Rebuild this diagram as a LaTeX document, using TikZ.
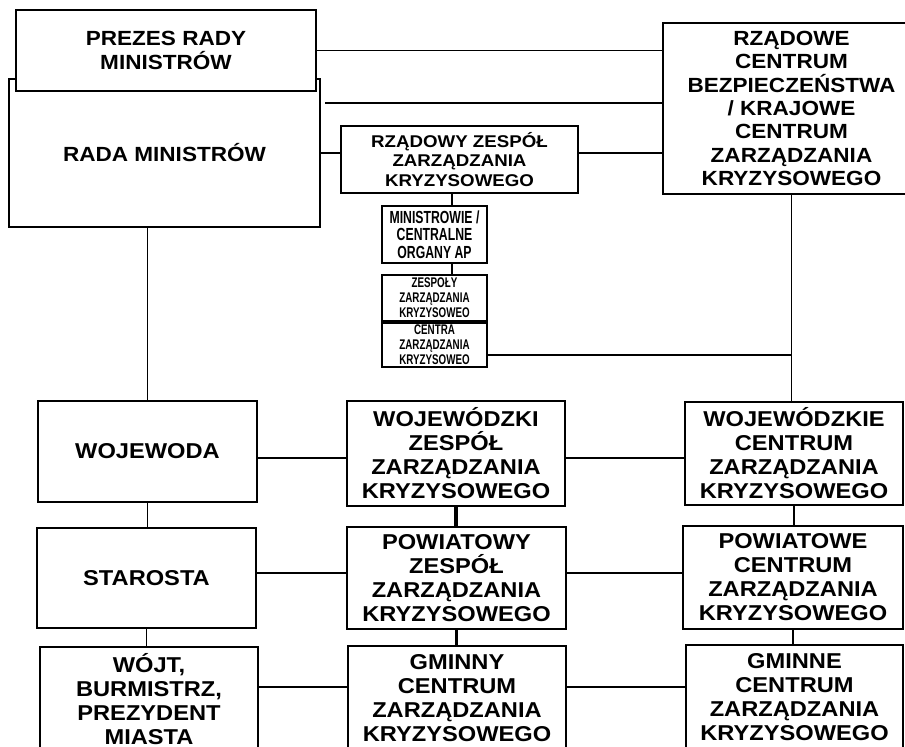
\documentclass[tikz,border=0pt]{standalone}
\usepackage{fontspec}
\setmainfont{Liberation Sans}[FakeStretch=1.1]
\newfontfamily\narrowsf{Liberation Sans}[FakeStretch=0.7]
\usepackage{tikz}

\newcommand{\bigtxt}{\fontsize{20.5}{24}\selectfont\bfseries}
\newcommand{\rowtxt}{\fontsize{21.5}{24}\selectfont\bfseries}
\newcommand{\midtxt}{\fontsize{20.5}{23.3}\selectfont\bfseries}
\newcommand{\smalltxt}{\fontsize{17}{19.5}\selectfont\bfseries}

\tikzset{
	box/.style={draw, line width=1.7pt, fill=white, align=center, inner sep=0pt},
	link/.style={line width=1.4pt},
	heavy/.style={line width=3.6pt}
}

\begin{document}
\begin{tikzpicture}[x=1pt, y=-1pt]
	\useasboundingbox (0,0) rectangle (905,747);
	\clip (0,0) rectangle (905,747);
	
	% top level
	\node[box, minimum width=311pt, minimum height=148pt, font=\bigtxt] (rada) at (164.5,153) {RADA MINISTRÓW};
	\node[box, minimum width=300pt, minimum height=81pt, font=\bigtxt] (prezes) at (166,50.5) {PREZES RADY\\MINISTRÓW};
	\node[box, minimum width=237pt, minimum height=67pt, font=\smalltxt] (rzzk) at (459.5,159.5) {RZĄDOWY ZESPÓŁ\\ZARZĄDZANIA\\KRYZYSOWEGO};
	\node[box, minimum width=257pt, minimum height=171pt, font=\midtxt] (rcb) at (791.5,108.5) {RZĄDOWE\\CENTRUM\\BEZPIECZEŃSTWA\\/ KRAJOWE\\CENTRUM\\ZARZĄDZANIA\\KRYZYSOWEGO};
	
	\node[box, minimum width=105pt, minimum height=57pt, font=\narrowsf\fontsize{17.5}{17.7}\selectfont\bfseries] (mini1) at (434.5,234.5) {MINISTROWIE /\\CENTRALNE\\ORGANY AP};
	\node[box, minimum width=105pt, minimum height=46pt, font=\narrowsf\fontsize{14}{15}\selectfont\bfseries] (mini2) at (434.5,298) {ZESPOŁY\\ZARZĄDZANIA\\KRYZYSOWEO};
	\node[box, minimum width=105pt, minimum height=44pt, font=\narrowsf\fontsize{14}{15}\selectfont\bfseries] (mini3) at (434.5,345) {CENTRA\\ZARZĄDZANIA\\KRYZYSOWEO};
	
	% three levels
	\node[box, minimum width=219pt, minimum height=101pt, font=\rowtxt] (woj) at (147.5,451.5) {WOJEWODA};
	\node[box, minimum width=219pt, minimum height=100pt, font=\rowtxt] (star) at (146.5,578) {STAROSTA};
	\node[box, minimum width=218pt, minimum height=105pt, font=\rowtxt] (wojt) at (149,699.5) {WÓJT,\\BURMISTRZ,\\PREZYDENT\\MIASTA};
	
	\node[box, minimum width=218pt, minimum height=105pt, font=\rowtxt] (wzzk) at (456,453.5) {WOJEWÓDZKI\\ZESPÓŁ\\ZARZĄDZANIA\\KRYZYSOWEGO};
	\node[box, minimum width=219pt, minimum height=102pt, font=\rowtxt] (pzzk) at (456.5,578) {POWIATOWY\\ZESPÓŁ\\ZARZĄDZANIA\\KRYZYSOWEGO};
	\node[box, minimum width=218pt, minimum height=105pt, font=\rowtxt] (gczk) at (457,698.5) {GMINNY\\CENTRUM\\ZARZĄDZANIA\\KRYZYSOWEGO};
	
	\node[box, minimum width=218pt, minimum height=103pt, font=\rowtxt] (wcz) at (794,453.5) {WOJEWÓDZKIE\\CENTRUM\\ZARZĄDZANIA\\KRYZYSOWEGO};
	\node[box, minimum width=220pt, minimum height=103pt, font=\rowtxt] (pcz) at (793,577.5) {POWIATOWE\\CENTRUM\\ZARZĄDZANIA\\KRYZYSOWEGO};
	\node[box, minimum width=217pt, minimum height=105pt, font=\rowtxt] (gcz) at (794.5,697.5) {GMINNE\\CENTRUM\\ZARZĄDZANIA\\KRYZYSOWEGO};
	
	% helper points
	\coordinate (r2) at (325,103);
	\coordinate (r3) at (0,153);
	\coordinate (vx) at (452,0);
	\coordinate (row1) at (0,458);
	\coordinate (row2) at (0,573);
	\coordinate (row3) at (0,687);
	
	% government links
	\draw[link] (prezes.east) -- (prezes.east -| rcb.west);
	\draw[link] (r2) -- (r2 -| rcb.west);
	\draw[link] (rada.east |- r3) -- (rzzk.west |- r3);
	\draw[link] (rzzk.east |- r3) -- (rcb.west |- r3);
	\draw[link] (rzzk.south -| vx) -- (mini1.north -| vx);
	\draw[link] (mini1.south -| vx) -- (mini2.north -| vx);
	\draw[link] (mini2.south -| vx) -- (mini3.north -| vx);
	\draw[link] ([yshift=-10pt]mini3.east) -- ([yshift=-10pt]mini3.east -| rcb.south);
	\draw[link] (rcb.south) -- (rcb.south |- wcz.north);
	\draw[link] (rada.south -| woj.north) -- (woj.north);
	
	% vertical links
	\draw[link] (woj.south) -- (woj.south |- star.north);
	\draw[link] (star.south) -- (star.south |- wojt.north);
	\draw[heavy] (wzzk.south) -- (wzzk.south |- pzzk.north);
	\draw[heavy] (pzzk.south) -- (pzzk.south |- gczk.north);
	\draw[link] (wcz.south) -- (wcz.south |- pcz.north);
	\draw[link] (pcz.south) -- (pcz.south |- gcz.north);
	
	% horizontal links
	\draw[link] (woj.east |- row1) -- (wzzk.west |- row1);
	\draw[link] (wzzk.east |- row1) -- (wcz.west |- row1);
	\draw[link] (star.east |- row2) -- (pzzk.west |- row2);
	\draw[link] (pzzk.east |- row2) -- (pcz.west |- row2);
	\draw[link] (wojt.east |- row3) -- (gczk.west |- row3);
	\draw[link] (gczk.east |- row3) -- (gcz.west |- row3);
\end{tikzpicture}
\end{document}
